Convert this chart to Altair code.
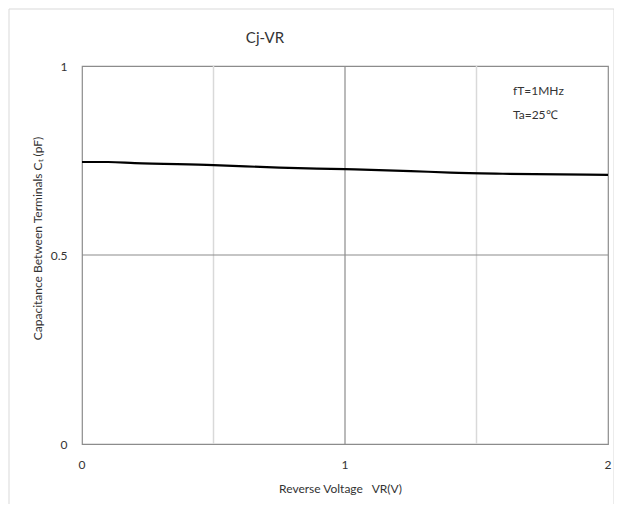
import altair as alt
import pandas as pd

# Data
vr = [0.0, 0.1, 0.2, 0.5, 0.75, 1.0, 1.25, 1.4, 1.6, 2.0]
cap = [0.746, 0.746, 0.743, 0.738, 0.731, 0.727, 0.722, 0.718, 0.715, 0.712]

x_ticks = [0, 1, 2]
x_tick_labels = ["0", "1", "2"]
y_ticks = [0, 0.5, 1]
vgrid_major = [1]
vgrid_minor = [0.5, 1.5]
hgrid_major = [0.5]
notes = ["fT=1MHz", "Ta=25\u2103"]
title_text = ["Cj-VR"]

FONT = "Lato"
NB = "\u00a0"

df = pd.DataFrame({"VR": vr, "C": cap})
xs = alt.Scale(domain=[0, 2], nice=False)
ys = alt.Scale(domain=[0, 1], nice=False)

x_axis = alt.Axis(
    values=x_ticks, grid=False, domain=False, ticks=False, labels=False,
    title=f"Reverse Voltage{NB}{NB}{NB}VR(V)", titleFont=FONT, titleFontSize=12,
    titleFontWeight="normal", titleColor="#333", titleY=44, titleX=258,
    titleBaseline="middle", zindex=2,
)
y_axis = alt.Axis(
    values=y_ticks, format="~g", grid=False, domain=False, ticks=False,
    labelPadding=15, labelFontSize=12, labelColor="#333", labelFont=FONT,
    labelOverlap=False, labelFlush=False, labelBound=False,
    title="Capacitance Between Terminals C\u209c (pF)", titleFont=FONT,
    titleFontSize=12, titleFontWeight="normal", titleColor="#333",
    titleX=-45, titleY=172, titleAngle=-90, titleBaseline="middle", zindex=2,
)

line = alt.Chart(df).mark_line(color="black", strokeWidth=2.2, interpolate="monotone").encode(
    x=alt.X("VR:Q", scale=xs, axis=x_axis),
    y=alt.Y("C:Q", scale=ys, axis=y_axis),
)

frame = alt.Chart(pd.DataFrame({"a": [0]})).mark_rect(
    fill="transparent", stroke="#d9d9d9", strokeWidth=1, clip=False
).encode(
    x=alt.value(-73), x2=alt.value(532), y=alt.value(-57), y2=alt.value(446)
)

minor = alt.Chart(pd.DataFrame({"VR": vgrid_minor})).mark_rule(
    color="#d9d9d9", strokeWidth=1.5
).encode(x=alt.X("VR:Q", scale=xs, axis=x_axis))

vmajor = alt.Chart(pd.DataFrame({"VR": vgrid_major})).mark_rule(
    color="#8c8c8c", strokeWidth=1.2
).encode(x=alt.X("VR:Q", scale=xs, axis=x_axis))

hmajor = alt.Chart(pd.DataFrame({"C": hgrid_major})).mark_rule(
    color="#8c8c8c", strokeWidth=1.2
).encode(y=alt.Y("C:Q", scale=ys, axis=y_axis))

xlab = alt.Chart(pd.DataFrame({"VR": x_ticks, "lab": x_tick_labels})).mark_text(
    align="center", baseline="middle", font=FONT, fontSize=12, color="#333", clip=False
).encode(
    x=alt.X("VR:Q", scale=xs, axis=x_axis),
    y=alt.value(399),
    text="lab:N",
)

notes_df = pd.DataFrame({"t": notes, "C": [0.935, 0.87]})
note = alt.Chart(notes_df).mark_text(
    align="left", baseline="middle", font=FONT, fontSize=12, color="#333"
).encode(
    x=alt.value(431),
    y=alt.Y("C:Q", scale=ys, axis=y_axis),
    text="t:N",
)

title = alt.Chart(pd.DataFrame({"t": title_text})).mark_text(
    align="center", baseline="middle", font=FONT, fontSize=15, color="#333", clip=False
).encode(
    x=alt.value(183), y=alt.value(-28), text="t:N"
)

chart = alt.layer(frame, minor, vmajor, hmajor, line, xlab, note, title).properties(
    width=526,
    height=378,
    padding={"left": 74, "top": 58, "right": 6, "bottom": 60},
    autosize=alt.AutoSizeParams(type="none"),
).configure_view(stroke="#8c8c8c", strokeWidth=1.2)

chart.save("out.html", embed_options={"renderer": "svg", "actions": False})
